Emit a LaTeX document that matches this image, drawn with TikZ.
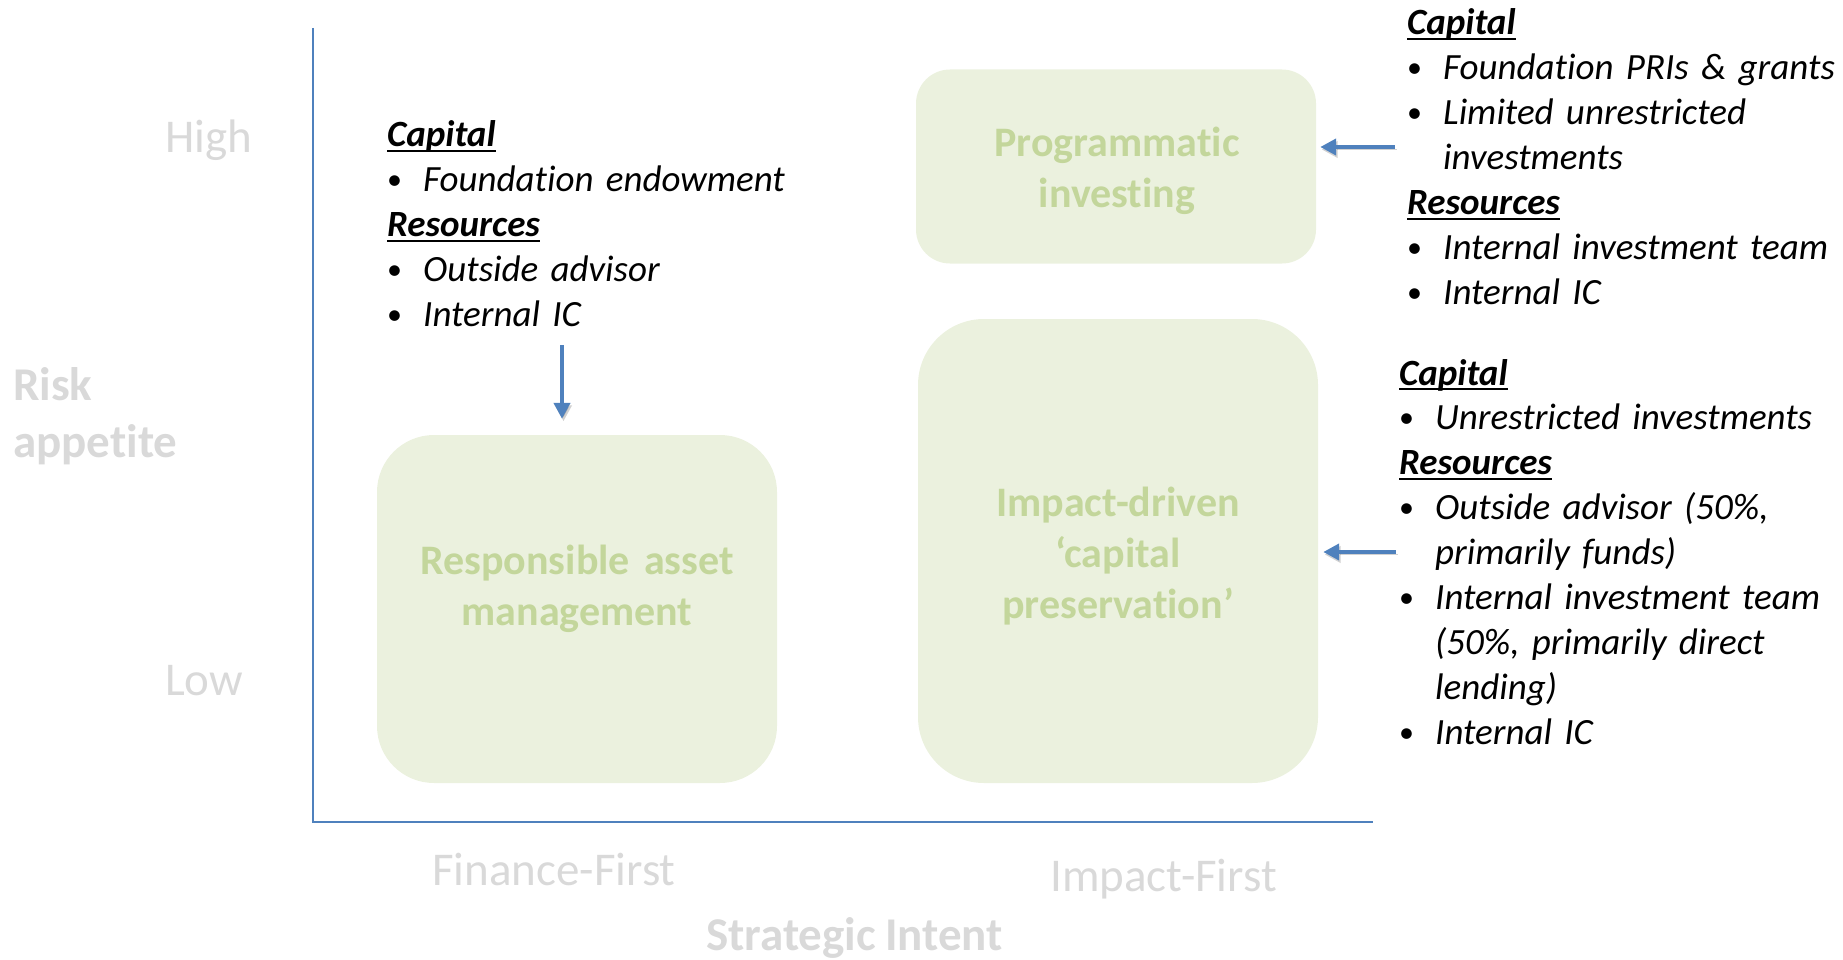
\documentclass[tikz,border=0pt]{standalone}
\usepackage{fontspec}
\setmainfont{Carlito}[Ligatures={TeX,NoCommon},WordSpace=0.85]
\usetikzlibrary{arrows.meta}
\definecolor{axisblue}{HTML}{4F81BD}
\definecolor{lblgray}{HTML}{D9D9D9}
\definecolor{boxfill}{HTML}{EBF1DE}
\definecolor{boxtext}{HTML}{C3D69B}
\newcommand\ulx[1]{\setbox0=\hbox{#1}\rlap{\rule[-5pt]{\wd0}{2pt}}\box0}
\newcommand\hd[1]{\textbf{\ulx{#1}}}
\newcommand\bl{\makebox[36pt][l]{\raisebox{2pt}{\upshape\fontsize{30}{30}\selectfont\textbullet}}}
\newcommand\ind{\hspace*{36pt}}
\begin{document}
\begin{tikzpicture}[x=1pt,y=-1pt,
  axis/.style={draw=axisblue,line width=2.5pt},
  gbox/.style={fill=boxfill,draw=none,inner sep=0pt},
  gtext/.style={text=boxtext,font=\fontsize{42}{51}\selectfont\bfseries,text width=420pt,align=center,inner sep=0pt,anchor=base},
  axlabel/.style={text=lblgray,font=\fontsize{47}{57.5}\selectfont,inner sep=0pt,anchor=base west},
  axlabelb/.style={axlabel,font=\fontsize{47}{57.5}\selectfont\bfseries},
  info/.style={font=\fontsize{37}{44.9}\selectfont\itshape,text width=460pt,align=left,inner sep=0pt,anchor=base west},
  arr/.style={draw=axisblue,line width=4.5pt,-{Triangle[length=16pt,width=16pt]},
    preaction={draw=black,draw opacity=0.18,fill opacity=0.18,transform canvas={shift={(1.5pt,-2.5pt)}}}},
]
\useasboundingbox (0,0) rectangle (1843,960);

% axes
\coordinate (ytop) at (313,28);
\coordinate (orig) at (313,822);
\coordinate (xend) at (1373,822);
\draw[axis] (ytop) -- (orig) -- (xend);

% boxes
\node[gbox,minimum width=400pt,minimum height=194pt,rounded corners=34pt] (prog) at (1116,166.5) {};
\node[gbox,minimum width=400pt,minimum height=348pt,rounded corners=57pt] (resp) at (577,609) {};
\node[gbox,minimum width=400pt,minimum height=464pt,rounded corners=66pt] (impact) at (1118,551) {};

\node[gtext] (progt) at (1117,157) {Programmatic\\investing};
\node[gtext] (respt) at (577,574) {Responsible asset\\management};
\node[gtext] (impt) at (1118,516) {Impact-driven\\‘capital\\preservation’};

% axis labels
\node[axlabel] (high) at (165,153) {High};
\node[axlabel] (low) at (165,695) {Low};
\node[axlabelb,text width=300pt,align=left] (risk) at (13,400) {Risk\\appetite};
\node[axlabel] (ff) at (432,885) {Finance-First};
\node[axlabel] (if) at (1050,891) {Impact-First};
\node[axlabelb] (si) at (706,950) {Strategic Intent};

% info blocks
\node[info] (infoA) at (387,147) {\hd{Capital}\\
\bl Foundation endowment\\
\hd{Resources}\\
\bl Outside advisor\\
\bl Internal IC};

\node[info] (infoB) at (1407,35) {\hd{Capital}\\
\bl Foundation PRIs \& grants\\
\bl Limited unrestricted\\
\ind investments\\
\hd{Resources}\\
\bl Internal investment team\\
\bl Internal IC};

\node[info] (infoC) at (1399,385) {\hd{Capital}\\
\bl Unrestricted investments\\
\hd{Resources}\\
\bl Outside advisor (50\%,\\
\ind primarily funds)\\
\bl Internal investment team\\
\ind (50\%, primarily direct\\
\ind lending)\\
\bl Internal IC};

% arrows
\coordinate (a1s) at (562,345);
\draw[arr,shorten >=16pt] (a1s) -- (a1s |- resp.north);
\coordinate (a2s) at (1395,147);
\draw[arr,shorten >=4pt] (a2s) -- (a2s -| prog.east);
\coordinate (a3s) at (1396,552);
\draw[arr,shorten >=5pt] (a3s) -- (a3s -| impact.east);
\end{tikzpicture}
\end{document}
